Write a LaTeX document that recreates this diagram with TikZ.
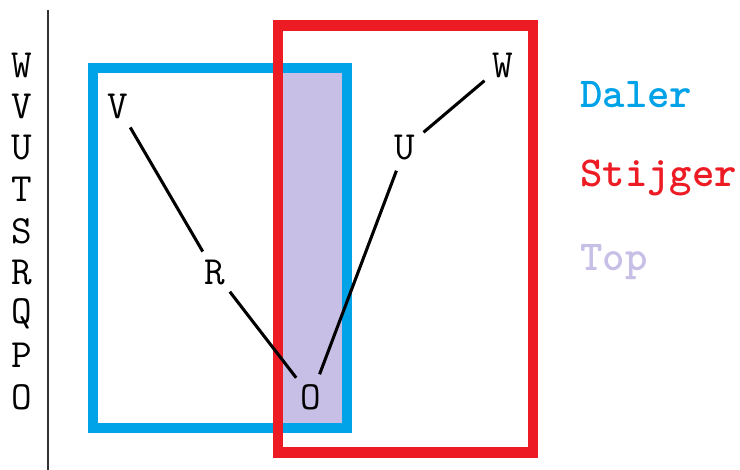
\documentclass[tikz,border=0pt]{standalone}
\usepackage{fontspec}
\definecolor{dalerblue}{RGB}{0,162,232}
\definecolor{stijgerred}{RGB}{237,28,36}
\definecolor{toppurple}{RGB}{200,191,231}
\tikzset{
  letter/.style={circle, inner sep=0pt, minimum size=36pt, font=\ttfamily\fontsize{30}{30}\selectfont},
  rowletter/.style={inner sep=0pt, font=\ttfamily\fontsize{30}{30}\selectfont},
  legend/.style={anchor=west, inner sep=0pt, font=\ttfamily\fontsize{32}{32}\selectfont\bfseries},
  link/.style={line width=2.3pt}
}
\begin{document}
\begin{tikzpicture}[x=0.75pt, y=-0.75pt]
\useasboundingbox (0,0) rectangle (740,470);
% scale on the left
\draw[line width=1pt, black!80] (48,10) -- (48,470);
\node[rowletter] (sw) at (22,65) {W};
\node[rowletter] (sv) at (22,106.5) {V};
\node[rowletter] (su) at (22,148) {U};
\node[rowletter] (st) at (22,189.5) {T};
\node[rowletter] (ss) at (22,231) {S};
\node[rowletter] (sr) at (22,272.5) {R};
\node[rowletter] (sq) at (22,314) {Q};
\node[rowletter] (sp) at (22,355.5) {P};
\node[rowletter] (so) at (22,397) {O};
% boxes
\fill[toppurple] (283,73) rectangle (342,423);
\draw[dalerblue, line width=7.5pt] (92.5,68) rectangle (347,428.5);
\draw[stijgerred, line width=8pt] (278,25.5) rectangle (533,452.5);
% path
\node[letter] (v) at (118,106.5) {V};
\node[letter] (r) at (215,272.5) {R};
\node[letter] (o) at (311,397) {O};
\node[letter] (u) at (405,148) {U};
\node[letter] (w) at (503,65) {W};
\draw[link] (v) -- (r);
\draw[link] (r) -- (o);
\draw[link] (o) -- (u);
\draw[link] (u) -- (w);
% legend
\node[legend, text=dalerblue] (daler) at (580,95) {Daler};
\node[legend, text=stijgerred] (stijger) at (580,178) {Stijger};
\node[legend, text=toppurple] (top) at (580,262) {Top};
\end{tikzpicture}
\end{document}
